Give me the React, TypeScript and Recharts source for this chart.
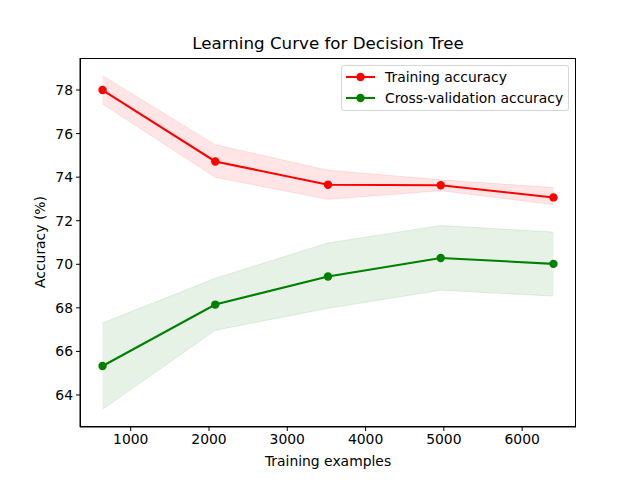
import React from "react";
import { ComposedChart, Line, Area, XAxis, YAxis } from "recharts";

const trainSizes = [640, 2080, 3520, 4960, 6400];
const trainMean = [78.0, 74.72, 73.65, 73.63, 73.07];
const trainLow = [77.36, 73.99, 72.98, 73.38, 72.74];
const trainHigh = [78.66, 75.49, 74.32, 73.88, 73.52];
const cvMean = [65.33, 68.15, 69.44, 70.29, 70.02];
const cvLow = [63.34, 66.97, 67.98, 68.81, 68.54];
const cvHigh = [67.3, 69.36, 70.98, 71.78, 71.48];
const xTicks = [1000, 2000, 3000, 4000, 5000, 6000];
const yTicks = [64, 66, 68, 70, 72, 74, 76, 78];

const data = trainSizes.map((n, i) => ({
  n,
  train: trainMean[i],
  trainBand: [trainLow[i], trainHigh[i]],
  cv: cvMean[i],
  cvBand: [cvLow[i], cvHigh[i]],
}));

const font = "'DejaVu Sans', sans-serif";
const tickStyle = { fontSize: 13.9, fill: "#000", fontFamily: font };

function LegendBox() {
  const items = [
    { label: "Training accuracy", color: "#ff0000" },
    { label: "Cross-validation accuracy", color: "#008000" },
  ];
  return (
    <div
      style={{
        position: "absolute",
        left: 341,
        top: 65,
        width: 228,
        height: 46,
        border: "1px solid #d6d6d6",
        borderRadius: 3,
        background: "rgba(255,255,255,0.8)",
        boxSizing: "border-box",
        fontFamily: font,
        fontSize: 13.9,
        paddingTop: 0,
      }}
    >
      {items.map((it) => (
        <div key={it.label} style={{ display: "flex", alignItems: "center", height: 21 }}>
          <svg width={41} height={14} style={{ marginLeft: 2 }}>
            <line x1={2} y1={7} x2={31} y2={7} stroke={it.color} strokeWidth={2.08} />
            <circle cx={16.5} cy={7} r={4.2} fill={it.color} />
          </svg>
          <span style={{ color: "#000" }}>{it.label}</span>
        </div>
      ))}
    </div>
  );
}

export default function App() {
  return (
    <div style={{ position: "absolute", left: 0, top: 0, width: 640, height: 480, background: "#fff" }}>
      <div
        style={{
          position: "absolute",
          left: 80,
          width: 496,
          top: 33,
          textAlign: "center",
          fontFamily: font,
          fontSize: 16.7,
          color: "#000",
        }}
      >
        Learning Curve for Decision Tree
      </div>
      <div
        style={{
          position: "absolute",
          left: 80,
          width: 496,
          top: 453,
          textAlign: "center",
          fontFamily: font,
          fontSize: 13.9,
          color: "#000",
        }}
      >
        Training examples
      </div>
      <div
        style={{
          position: "absolute",
          left: 40,
          top: 242,
          transform: "translate(-50%, -50%) rotate(-90deg)",
          whiteSpace: "nowrap",
          fontFamily: font,
          fontSize: 13.9,
          color: "#000",
        }}
      >
        Accuracy (%)
      </div>
      <ComposedChart
        width={640}
        height={480}
        data={data}
        margin={{ top: 58, right: 64, bottom: 23, left: 20 }}
      >
        <XAxis
          dataKey="n"
          type="number"
          domain={[352, 6688]}
          ticks={xTicks}
          allowDataOverflow
          height={30}
          tick={tickStyle}
          tickSize={4}
          tickMargin={3}
          stroke="#000"
        />
        <YAxis
          type="number"
          domain={[62.53, 79.47]}
          ticks={yTicks}
          allowDataOverflow
          width={60}
          tick={tickStyle}
          tickSize={4}
          tickMargin={3}
          stroke="#000"
        />
        <Area
          type="linear"
          dataKey="trainBand"
          fill="#ff0000"
          fillOpacity={0.1}
          stroke="#ff0000"
          strokeOpacity={0.1}
          isAnimationActive={false}
        />
        <Area
          type="linear"
          dataKey="cvBand"
          fill="#008000"
          fillOpacity={0.1}
          stroke="#008000"
          strokeOpacity={0.1}
          isAnimationActive={false}
        />
        <Line
          type="linear"
          dataKey="train"
          stroke="#ff0000"
          strokeWidth={2.08}
          dot={{ r: 4.2, fill: "#ff0000", stroke: "none" }}
          isAnimationActive={false}
        />
        <Line
          type="linear"
          dataKey="cv"
          stroke="#008000"
          strokeWidth={2.08}
          dot={{ r: 4.2, fill: "#008000", stroke: "none" }}
          isAnimationActive={false}
        />
      </ComposedChart>
      <div
        style={{
          position: "absolute",
          left: 80,
          top: 58,
          width: 496,
          height: 369,
          border: "1px solid #000",
          boxSizing: "border-box",
          pointerEvents: "none",
        }}
      />
      <LegendBox />
    </div>
  );
}
